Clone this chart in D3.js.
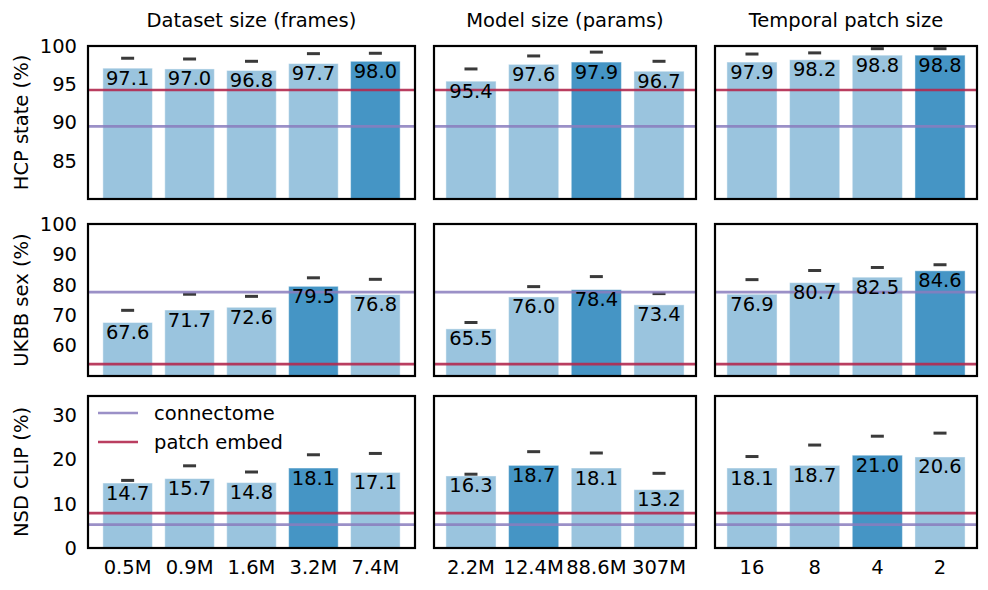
<!DOCTYPE html>
<html>
<head>
<meta charset="utf-8">
<script src="https://cdn.jsdelivr.net/npm/d3@7/dist/d3.min.js"></script>
<style>
  html, body { margin: 0; padding: 0; background: #fff; }
  svg { display: block; font-family: "DejaVu Sans", sans-serif; }
</style>
</head>
<body>
<svg id="chart" width="988" height="590"></svg>
<script>
// ---------- data ----------
const colTitles = ["Dataset size (frames)", "Model size (params)", "Temporal patch size"];
const rowLabels = ["HCP state (%)", "UKBB sex (%)", "NSD CLIP (%)"];

const datasetSizes = ["0.5M", "0.9M", "1.6M", "3.2M", "7.4M"];
const modelSizes   = ["2.2M", "12.4M", "88.6M", "307M"];
const patchSizes   = ["16", "8", "4", "2"];

// bar values
const hcpDataset  = [97.1, 97.0, 96.8, 97.7, 98.0];
const hcpModel    = [95.4, 97.6, 97.9, 96.7];
const hcpPatch    = [97.9, 98.2, 98.8, 98.8];
const ukbbDataset = [67.6, 71.7, 72.6, 79.5, 76.8];
const ukbbModel   = [65.5, 76.0, 78.4, 73.4];
const ukbbPatch   = [76.9, 80.7, 82.5, 84.6];
const nsdDataset  = [14.7, 15.7, 14.8, 18.1, 17.1];
const nsdModel    = [16.3, 18.7, 18.1, 13.2];
const nsdPatch    = [18.1, 18.7, 21.0, 20.6];

// dash markers above bars
const hcpDatasetDash  = [98.4, 98.3, 98.0, 99.0, 99.05];
const hcpModelDash    = [97.0, 98.7, 99.2, 98.0];
const hcpPatchDash    = [98.95, 99.1, 99.65, 99.65];
const ukbbDatasetDash = [71.6, 76.9, 76.2, 82.3, 81.8];
const ukbbModelDash   = [67.6, 79.4, 82.7, 77.1];
const ukbbPatchDash   = [81.7, 84.7, 85.7, 86.6];
const nsdDatasetDash  = [15.3, 18.6, 17.2, 21.1, 21.4];
const nsdModelDash    = [16.7, 21.8, 21.5, 16.9];
const nsdPatchDash    = [20.7, 23.3, 25.3, 26.0];

// highlighted (dark) bar index per row / column
const hcpHighlight  = [4, 2, 3];
const ukbbHighlight = [3, 2, 3];
const nsdHighlight  = [3, 1, 2];

// reference lines per row
const connectomeRef  = [89.5, 77.6, 5.3];
const patchEmbedRef  = [94.25, 53.9, 7.9];

// axes
const yDomains = [[80, 100], [50, 100], [0, 34.4]];
const yTicks   = [[85, 90, 95, 100], [60, 70, 80, 90, 100], [0, 10, 20, 30]];

// ---------- layout ----------
const colX = [[88, 415], [434, 696], [715, 977]];
const rowY = [[46, 199], [224, 376], [396, 548]];
const FS = 19.5;
const lightBlue = "#9ac4de";
const darkBlue  = "#4595c5";
const purple = "#8a7dbd";
const red    = "#b3294f";

const categories = [datasetSizes, modelSizes, patchSizes];
const values = [
  [hcpDataset, hcpModel, hcpPatch],
  [ukbbDataset, ukbbModel, ukbbPatch],
  [nsdDataset, nsdModel, nsdPatch]
];
const dashes = [
  [hcpDatasetDash, hcpModelDash, hcpPatchDash],
  [ukbbDatasetDash, ukbbModelDash, ukbbPatchDash],
  [nsdDatasetDash, nsdModelDash, nsdPatchDash]
];
const highlights = [hcpHighlight, ukbbHighlight, nsdHighlight];

const svg = d3.select("#chart");

for (let r = 0; r < 3; r++) {
  for (let c = 0; c < 3; c++) {
    const cats = categories[c];
    const n = cats.length;
    const x = d3.scaleBand()
      .domain(cats)
      .range(colX[c])
      .paddingInner(0.2)
      .paddingOuter(0.05 * (n - 0.2));
    const y = d3.scaleLinear().domain(yDomains[r]).range([rowY[r][1], rowY[r][0]]);
    const g = svg.append("g");
    const vals = values[r][c];
    const data = cats.map((k, i) => ({ k, v: vals[i], d: dashes[r][c][i], hi: highlights[r][c] === i }));

    // bars
    g.selectAll("rect.bar").data(data).join("rect")
      .attr("class", "bar")
      .attr("x", d => x(d.k))
      .attr("width", x.bandwidth())
      .attr("y", d => y(d.v))
      .attr("height", d => y(yDomains[r][0]) - y(d.v))
      .attr("fill", d => d.hi ? darkBlue : lightBlue)
      .attr("stroke", "rgba(255,255,255,0.45)")
      .attr("stroke-width", 1);

    // dashes
    g.selectAll("line.dash").data(data).join("line")
      .attr("class", "dash")
      .attr("x1", d => x(d.k) + x.bandwidth() / 2 - 6.5)
      .attr("x2", d => x(d.k) + x.bandwidth() / 2 + 6.5)
      .attr("y1", d => y(d.d))
      .attr("y2", d => y(d.d))
      .attr("stroke", "#3a3a3a")
      .attr("stroke-width", 3);

    // reference lines
    [[connectomeRef[r], purple, 0.85], [patchEmbedRef[r], red, 0.9]].forEach(([v, col, op]) => {
      g.append("line")
        .attr("x1", colX[c][0]).attr("x2", colX[c][1])
        .attr("y1", y(v)).attr("y2", y(v))
        .attr("stroke", col).attr("stroke-opacity", op)
        .attr("stroke-width", 2.6);
    });

    // value labels
    g.selectAll("text.val").data(data).join("text")
      .attr("class", "val")
      .attr("x", d => x(d.k) + x.bandwidth() / 2)
      .attr("y", d => y(d.v) + 16.5)
      .attr("text-anchor", "middle")
      .attr("font-size", FS)
      .attr("fill", "#000")
      .text(d => d.v.toFixed(1));

    // frame
    g.append("rect")
      .attr("x", colX[c][0]).attr("y", rowY[r][0])
      .attr("width", colX[c][1] - colX[c][0])
      .attr("height", rowY[r][1] - rowY[r][0])
      .attr("fill", "none").attr("stroke", "#000").attr("stroke-width", 2.2);

    // y axis on first column
    if (c === 0) {
      const ay = svg.append("g")
        .attr("transform", `translate(${colX[c][0]},0)`)
        .call(d3.axisLeft(y).tickValues(yTicks[r]).tickSize(0).tickPadding(11).tickFormat(d3.format("d")));
      ay.select(".domain").remove();
      ay.attr("font-size", FS).attr("font-family", "DejaVu Sans, sans-serif");
      ay.selectAll("text").attr("fill", "#000");

      svg.append("text")
        .attr("transform", `translate(21,${(rowY[r][0] + rowY[r][1]) / 2}) rotate(-90)`)
        .attr("text-anchor", "middle")
        .attr("dominant-baseline", "central")
        .attr("font-size", FS)
        .text(rowLabels[r]);
    }

    // x axis on last row
    if (r === 2) {
      const ax = svg.append("g")
        .attr("transform", `translate(0,${rowY[r][1]})`)
        .call(d3.axisBottom(x).tickSize(0).tickPadding(12.5));
      ax.select(".domain").remove();
      ax.attr("font-size", FS).attr("font-family", "DejaVu Sans, sans-serif");
      ax.selectAll("text").attr("fill", "#000");
    }

    // titles on first row
    if (r === 0) {
      svg.append("text")
        .attr("x", (colX[c][0] + colX[c][1]) / 2)
        .attr("y", 27)
        .attr("text-anchor", "middle")
        .attr("font-size", FS)
        .text(colTitles[c]);
    }

    // legend in bottom-left panel
    if (r === 2 && c === 0) {
      const items = [["connectome", purple, 0.85], ["patch embed", red, 0.9]];
      items.forEach(([lab, col, op], i) => {
        const ly = 413 + i * 29;
        svg.append("line")
          .attr("x1", 98).attr("x2", 138).attr("y1", ly).attr("y2", ly)
          .attr("stroke", col).attr("stroke-opacity", op).attr("stroke-width", 2.6);
        svg.append("text")
          .attr("x", 154).attr("y", ly).attr("dy", "0.35em")
          .attr("font-size", FS)
          .text(lab);
      });
    }
  }
}
</script>
</body>
</html>
